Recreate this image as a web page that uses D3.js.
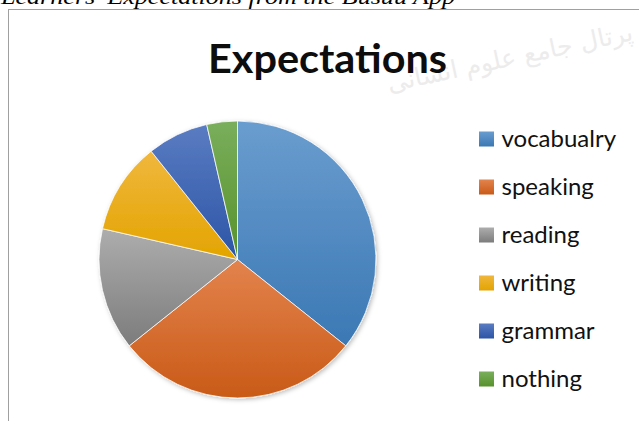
<!DOCTYPE html>
<html>
<head>
<meta charset="utf-8">
<script src="https://cdn.jsdelivr.net/npm/d3@7"></script>
<style>
  body { margin: 0; background: #fff; }
  svg { display: block; }
</style>
</head>
<body>
<svg id="chart"></svg>
<script>
// Data (28 answers in all)
const categories = ["vocabualry", "speaking", "reading", "writing", "grammar", "nothing"];
const counts = [10, 8, 4, 3, 2, 1];
const titleText = "Expectations";
const captionText = "Learners' Expectations from the Busuu App";
const watermarkText = "پرتال جامع علوم انسانی";

// colours: light top / dark bottom of each gradient
const colorsTop = ["#6a9dcf", "#e3834d", "#adadad", "#f0b73d", "#5a7cc2", "#7aae5c"];
const colorsBottom = ["#3b78b4", "#c95a17", "#7c7c7c", "#e3a400", "#2c55a6", "#57922b"];

const dimensions = {
    width: 639,
    height: 421,
    cx: 237.5,
    cy: 259.5,
    radius: 138.5,
    legendX: 479,
    legendY: 139,
    legendStep: 48,
    swatch: 15
};

const svg = d3.select("#chart")
    .attr("width", dimensions.width)
    .attr("height", dimensions.height);

const defs = svg.append("defs");

categories.forEach((c, i) => {
    const g = defs.append("linearGradient")
        .attr("id", "grad" + i)
        .attr("x1", 0).attr("y1", 0)
        .attr("x2", 0).attr("y2", 1);
    g.append("stop").attr("offset", "0%").attr("stop-color", colorsTop[i]);
    g.append("stop").attr("offset", "100%").attr("stop-color", colorsBottom[i]);
});

const shadow = defs.append("filter")
    .attr("id", "shadow")
    .attr("x", "-10%").attr("y", "-10%")
    .attr("width", "120%").attr("height", "120%");
shadow.append("feDropShadow")
    .attr("dx", 1.5).attr("dy", 1.5)
    .attr("stdDeviation", 2)
    .attr("flood-color", "#000")
    .attr("flood-opacity", 0.25);

// watermark, faint, right of the title
svg.append("text")
    .attr("x", 634)
    .attr("y", 40)
    .attr("transform", "rotate(-12, 634, 40)")
    .attr("text-anchor", "end")
    .style("font-family", "DejaVu Sans")
    .style("font-size", "25px")
    .style("fill", "#ececec")
    .text(watermarkText);

// caption cut off at the top of the picture
svg.append("text")
    .attr("x", 1)
    .attr("y", 4)
    .attr("textLength", 454)
    .attr("lengthAdjust", "spacingAndGlyphs")
    .style("font-family", "Liberation Serif")
    .style("font-style", "italic")
    .style("font-size", "20px")
    .style("fill", "#000")
    .text(captionText);

// chart frame
svg.append("rect")
    .attr("x", 8.5)
    .attr("y", 9.5)
    .attr("width", 700)
    .attr("height", 500)
    .attr("fill", "none")
    .attr("stroke", "#a0a0a0")
    .attr("stroke-width", 1);

// title
svg.append("text")
    .attr("x", 327.5)
    .attr("y", 73)
    .attr("text-anchor", "middle")
    .attr("textLength", 239)
    .attr("lengthAdjust", "spacingAndGlyphs")
    .style("font-family", "Lato")
    .style("font-weight", "bold")
    .style("font-size", "41px")
    .style("fill", "#0d0d0d")
    .text(titleText);

// pie
const pie = d3.pie().sort(null).value(d => d)(counts);
const arc = d3.arc().innerRadius(0).outerRadius(dimensions.radius);

svg.append("g")
    .attr("transform", `translate(${dimensions.cx}, ${dimensions.cy})`)
    .attr("filter", "url(#shadow)")
    .selectAll("path")
    .data(pie)
    .enter()
    .append("path")
    .attr("d", arc)
    .attr("fill", (d, i) => `url(#grad${i})`)
    .attr("stroke", "#fff")
    .attr("stroke-width", 0.75)
    .attr("stroke-linejoin", "round");

// legend
const legend = svg.append("g")
    .attr("transform", `translate(${dimensions.legendX}, ${dimensions.legendY})`);

categories.forEach((category, i) => {
    legend.append("rect")
        .attr("x", 0)
        .attr("y", i * dimensions.legendStep - dimensions.swatch / 2)
        .attr("width", dimensions.swatch)
        .attr("height", dimensions.swatch)
        .attr("fill", `url(#grad${i})`);

    legend.append("text")
        .attr("x", 22.5)
        .attr("y", i * dimensions.legendStep + 8)
        .style("font-family", "Lato")
        .style("font-size", "24px")
        .style("fill", "#111")
        .text(category);
});
</script>
</body>
</html>
